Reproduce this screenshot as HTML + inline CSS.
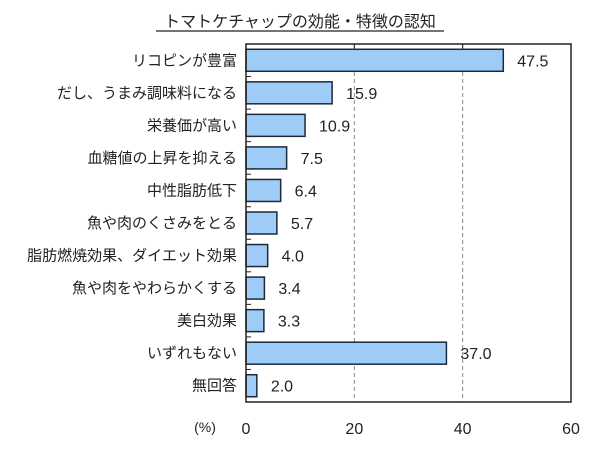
<!DOCTYPE html>
<html><head><meta charset="utf-8"><style>
body{margin:0;background:#fff;width:600px;height:450px;overflow:hidden}
svg text{font-family:"Liberation Sans","Noto Sans CJK JP",sans-serif;fill:#222}
</style></head><body>
<svg id="chart" width="600" height="450">
<text x="300" y="27" text-anchor="middle" font-size="16">トマトケチャップの効能・特徴の認知</text>
<line x1="156" y1="31" x2="444" y2="31" stroke="#222" stroke-width="1.2"/>
<g id="grid"></g><g id="bars"></g>
<rect x="246" y="44" width="325" height="358" fill="none" stroke="#222" stroke-width="1.5"/>
<text x="205" y="432" text-anchor="middle" font-size="14">(%)</text>
</svg>
<script>
const categories=["リコピンが豊富","だし、うまみ調味料になる","栄養価が高い","血糖値の上昇を抑える","中性脂肪低下","魚や肉のくさみをとる","脂肪燃焼効果、ダイエット効果","魚や肉をやわらかくする","美白効果","いずれもない","無回答"];
const values=[47.5,15.9,10.9,7.5,6.4,5.7,4.0,3.4,3.3,37.0,2.0];
const ticks=[0,20,40,60];
const X0=246,X1=571,Y0=44,Y1=402,MAX=60;
const x=v=>X0+(X1-X0)*v/MAX;
const band=(Y1-Y0)/categories.length;
const y=i=>Y0+band*i;
const NS="http://www.w3.org/2000/svg";
const g=document.getElementById('grid'),b=document.getElementById('bars');
function mk(tag,attrs,parent){const e=document.createElementNS(NS,tag);for(const k in attrs)e.setAttribute(k,attrs[k]);parent.appendChild(e);return e;}
ticks.forEach(t=>{
  if(t>0&&t<MAX){const l=mk('line',{x1:x(t),x2:x(t),y1:Y0,y2:Y1,stroke:'#888','stroke-dasharray':'4,3'},g);
  
  }
  const tk=mk('line',{x1:x(t),x2:x(t),y1:Y0,y2:Y0+5,stroke:'#222'},g);
  
  
  const tx=mk('text',{x:x(t),y:434,'text-anchor':'middle','font-size':16},g);
  tx.textContent=t;
  
  
});
categories.forEach((c,i)=>{
  const yc=y(i)+band/2;
  const tk=mk('line',{x1:X0,x2:X0+5,y1:y(i),y2:y(i),stroke:'#222'},g);
  
  
  const r=mk('rect',{x:X0,y:yc-11,width:x(values[i])-X0,height:22,fill:'#9fcbf7',stroke:'#1a2a3a','stroke-width':1.5},b);
  
  
  const l=mk('text',{x:237,y:yc+5,'text-anchor':'end','font-size':15},b);
  l.textContent=c;
  
  
  const v=mk('text',{x:x(values[i])+14,y:yc+6,'font-size':16},b);
  v.textContent=values[i].toFixed(1);
  
  
});
</script>
</body></html>
